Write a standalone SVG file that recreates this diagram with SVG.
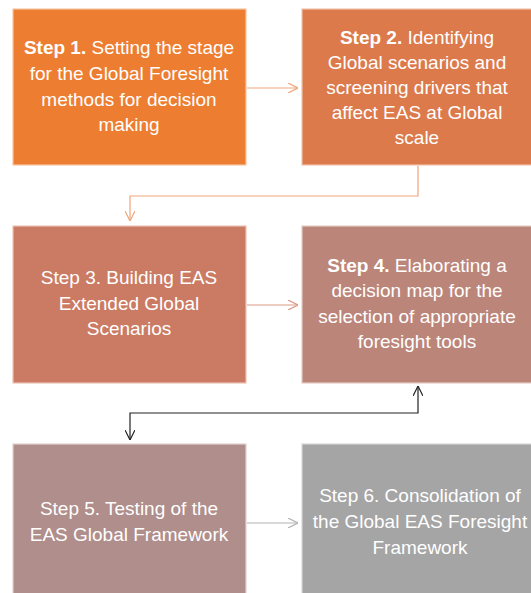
<svg xmlns="http://www.w3.org/2000/svg" width="531" height="593" viewBox="0 0 531 593">
<style>
.box{stroke-width:1.2}
.t{font-family:"Liberation Sans",Arial,sans-serif;font-size:19px;fill:#ffffff;text-anchor:middle}
.b{font-weight:bold}
.c{fill:none;stroke-width:1.2}
</style>
<defs>
<marker id="aO" viewBox="0 0 10 10" refX="10" refY="5" markerWidth="10" markerHeight="10" markerUnits="userSpaceOnUse" orient="auto"><path d="M0,0 L10,5 L0,10" fill="none" stroke="#F0A57A" stroke-width="1.2"/></marker>
<marker id="aR" viewBox="0 0 10 10" refX="10" refY="5" markerWidth="10" markerHeight="10" markerUnits="userSpaceOnUse" orient="auto"><path d="M0,0 L10,5 L0,10" fill="none" stroke="#DC9A86" stroke-width="1.2"/></marker>
<marker id="aG" viewBox="0 0 10 10" refX="10" refY="5" markerWidth="10" markerHeight="10" markerUnits="userSpaceOnUse" orient="auto"><path d="M0,0 L10,5 L0,10" fill="none" stroke="#B4B4B4" stroke-width="1.2"/></marker>
<marker id="aK" viewBox="0 0 10 10" refX="10" refY="5" markerWidth="10" markerHeight="10" markerUnits="userSpaceOnUse" orient="auto-start-reverse"><path d="M0,0 L10,5 L0,10" fill="none" stroke="#222" stroke-width="1.2"/></marker>
</defs>
<rect width="531" height="593" fill="#ffffff"/>
<g id="connectors">
<path class="c" d="M247,88 H298" stroke="#F0A57A" marker-end="url(#aO)"/>
<path class="c" d="M418,166 V196 H130 V221" stroke="#F0A57A" marker-end="url(#aO)"/>
<path class="c" d="M247,305 H298" stroke="#DC9A86" marker-end="url(#aR)"/>
<path class="c" d="M418,386 V413 H130 V440" stroke="#222" marker-start="url(#aK)" marker-end="url(#aK)"/>
<path class="c" d="M247,523 H298" stroke="#B4B4B4" marker-end="url(#aG)"/>
</g>
<g id="step1">
<rect class="box" x="13" y="9" width="233" height="156" fill="#ED7D31" stroke="#F6C7A6"/>
<text class="t" x="129" y="54"><tspan class="b">Step 1.</tspan> Setting the stage</text>
<text class="t" x="129" y="80">for the Global Foresight</text>
<text class="t" x="129" y="106">methods for decision</text>
<text class="t" x="129" y="131">making</text>
</g>
<g id="step2">
<rect class="box" x="302" y="9" width="235" height="156" fill="#DC7A4C" stroke="#F0C2AA"/>
<text class="t" x="417" y="44"><tspan class="b">Step 2.</tspan> Identifying</text>
<text class="t" x="417" y="69">Global scenarios and</text>
<text class="t" x="417" y="94">screening drivers that</text>
<text class="t" x="417" y="119">affect EAS at Global</text>
<text class="t" x="417" y="144">scale</text>
</g>
<g id="step3">
<rect class="box" x="13" y="226" width="233" height="157" fill="#CB7B63" stroke="#EBC4B6"/>
<text class="t" x="129" y="284">Step 3. Building EAS</text>
<text class="t" x="129" y="310">Extended Global</text>
<text class="t" x="129" y="335">Scenarios</text>
</g>
<g id="step4">
<rect class="box" x="302" y="226" width="235" height="157" fill="#BC857A" stroke="#E5CBC4"/>
<text class="t" x="417" y="272"><tspan class="b">Step 4.</tspan> Elaborating a</text>
<text class="t" x="417" y="297">decision map for the</text>
<text class="t" x="417" y="323">selection of appropriate</text>
<text class="t" x="417" y="348">foresight tools</text>
</g>
<g id="step5">
<rect class="box" x="13" y="444" width="233" height="155" fill="#AF8E8B" stroke="#E0D2D0"/>
<text class="t" x="129" y="515">Step 5. Testing of the</text>
<text class="t" x="129" y="541">EAS Global Framework</text>
</g>
<g id="step6">
<rect class="box" x="302" y="444" width="235" height="155" fill="#A5A5A5" stroke="#D6D6D6"/>
<text class="t" x="420" y="502">Step 6. Consolidation of</text>
<text class="t" x="420" y="528">the Global EAS Foresight</text>
<text class="t" x="420" y="554">Framework</text>
</g>
</svg>
